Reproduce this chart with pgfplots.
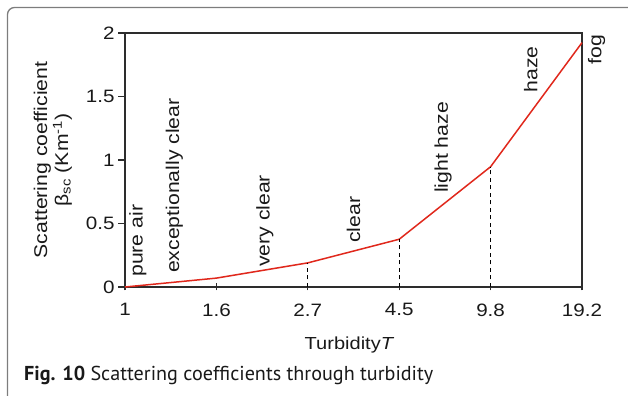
\documentclass[border=0pt]{standalone}
\usepackage{fontspec}
\setmainfont{Liberation Sans}[FakeStretch=1.15]
\newfontfamily\capfont{PT Sans}
\usepackage{pgfplots}
\pgfplotsset{compat=1.18}
\definecolor{redline}{RGB}{224,40,28}
\definecolor{axgray}{RGB}{45,45,45}
\definecolor{framegray}{RGB}{125,125,125}
\definecolor{txt}{RGB}{25,25,25}
\newcommand{\annot}{\fontsize{18.5}{21}\selectfont}
\begin{document}
\begin{tikzpicture}
\useasboundingbox (0,0) rectangle (628bp,396bp);
\draw[framegray, line width=1.3bp, rounded corners=7bp] (7.5bp,-5bp) -- (7.5bp,388.5bp) -- (640bp,388.5bp);
\begin{axis}[
  at={(125bp,109bp)}, anchor=south west,
  scale only axis, width=457bp, height=254bp,
  xmin=0, xmax=5, ymin=0, ymax=2,
  xtick={0,1,2,3,4,5}, xticklabels={1,1.6,2.7,4.5,9.8,19.2},
  ytick={0,0.5,1,1.5,2}, yticklabels={0,0.5,1,1.5,2},
  xtick pos=bottom, ytick pos=left,
  tick align=outside, major tick length=7bp,
  xtick style={yshift=3.5bp},
  every tick/.style={axgray, line width=1.1bp},
  axis line style={axgray, line width=1.1bp},
  /pgf/number format/assume math mode=true,
  xticklabel style={font=\fontsize{18}{20}\selectfont, text=txt, yshift=-6bp},
  yticklabel style={font=\fontsize{18}{20}\selectfont, text=txt},
  xlabel={Turbidity\textit{T}},
  xlabel style={at={(axis description cs:0.5,0)}, anchor=base, yshift=-62bp, xshift=-4bp, font=\fontsize{17.5}{20}\selectfont, text=txt},
  ylabel={Scattering coefficient\\β\textsubscript{sc} (Km\textsuperscript{-1})},
  ylabel style={at={(axis description cs:-0.158,0.5)}, anchor=center, align=center, font=\fontsize{18.5}{21}\selectfont, text=txt},
  clip=false,
]
\addplot[redline, line width=1.5bp] coordinates {(0,0) (1,0.07) (2,0.19) (3,0.376) (4,0.947) (5,1.924)};
\addplot[black, line width=1bp, dash pattern=on 4bp off 3.5bp] coordinates {(2,0) (2,0.19)};
\addplot[black, line width=1bp, dash pattern=on 4bp off 3.5bp] coordinates {(3,0) (3,0.376)};
\addplot[black, line width=1bp, dash pattern=on 4bp off 3.5bp] coordinates {(4,0) (4,0.947)};
\node[rotate=90, anchor=west, inner sep=0pt, font=\annot, text=txt] at (axis cs:0.14,0.079) {pure air};
\node[rotate=90, anchor=west, inner sep=0pt, font=\annot, text=txt] at (axis cs:0.54,0.11) {exceptionally clear};
\node[rotate=90, anchor=west, inner sep=0pt, font=\annot, text=txt] at (axis cs:1.53,0.157) {very clear};
\node[rotate=90, anchor=west, inner sep=0pt, font=\annot, text=txt] at (axis cs:2.5,0.346) {clear};
\node[rotate=90, anchor=west, inner sep=0pt, font=\annot, text=txt] at (axis cs:3.48,0.74) {light haze};
\node[rotate=90, anchor=west, inner sep=0pt, font=\annot, text=txt] at (axis cs:4.44,1.53) {haze};
\node[rotate=90, anchor=west, inner sep=0pt, font=\annot, text=txt] at (axis cs:5.16,1.75) {fog};
\end{axis}
\node[anchor=base west, inner sep=0pt, font=\capfont\fontsize{20.2}{22}\selectfont, text=txt] at (24bp,16bp) {\textbf{Fig. 10} Scattering coefficients through turbidity};
\end{tikzpicture}
\end{document}
